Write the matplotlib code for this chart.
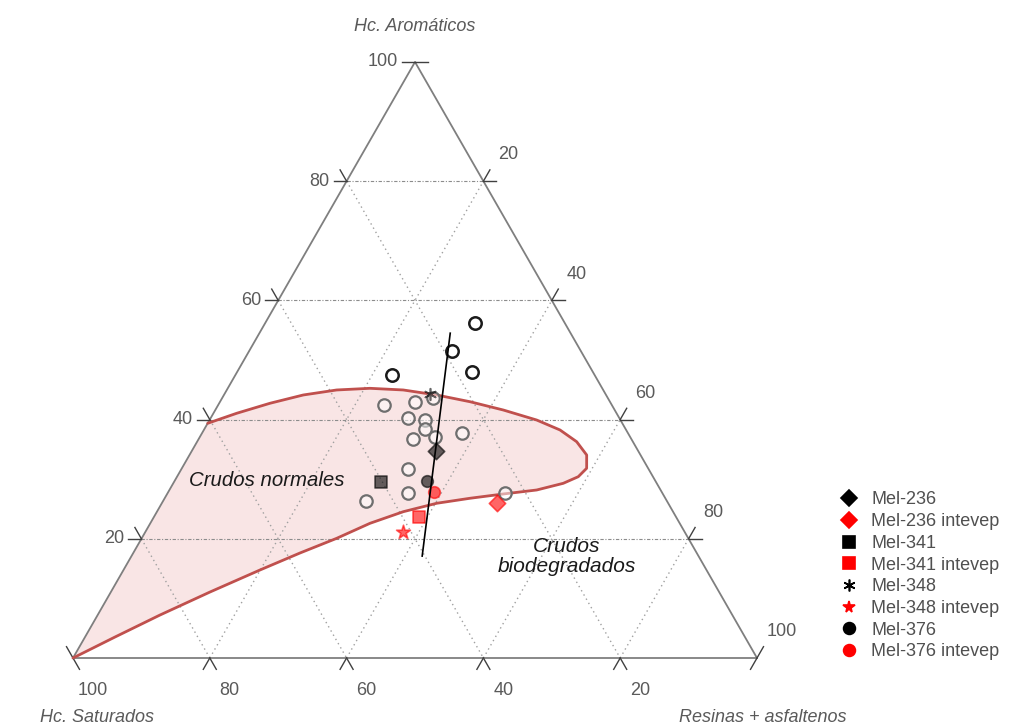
import matplotlib
matplotlib.use("Agg")
import matplotlib.pyplot as plt
from matplotlib.lines import Line2D
import numpy as np

plt.rcParams['font.family'] = ['Liberation Sans', 'DejaVu Sans']

# ---------------- data (ternary: Saturados, Aromaticos, Resinas+asfaltenos) -------------
tick_values = [20, 40, 60, 80, 100]
tick_labels = ["20", "40", "60", "80", "100"]

# open circles (other crudes, grey outline)
open_sat = [33.3, 28.5, 25.6, 30.9, 28.6, 29.3, 28.5, 32.0, 24.2, 35.2, 37.2, 44.0, 23.0]
open_aro = [42.4, 43.0, 43.6, 40.3, 39.9, 38.4, 37.1, 36.7, 37.8, 31.7, 27.7, 26.3, 27.7]
open_res = [24.3, 28.5, 30.8, 28.8, 31.5, 32.3, 34.4, 31.3, 38.0, 33.1, 35.1, 29.7, 49.3]
# open circles with dark outline (upper group)
dark_sat = [13.1, 18.8, 17.7, 29.6]
dark_aro = [56.2, 51.5, 48.0, 47.5]
dark_res = [30.7, 29.7, 34.3, 22.9]

# named samples
sample_names = ["Mel-236", "Mel-236 intevep", "Mel-341", "Mel-341 intevep",
                "Mel-348", "Mel-348 intevep", "Mel-376", "Mel-376 intevep"]
sample_sat = [29.6, 25.0, 40.2, 37.5, 25.7, 41.2, 33.4, 33.3]
sample_aro = [34.7, 26.0, 29.5, 23.7, 44.3, 21.1, 29.7, 27.9]
sample_res = [35.7, 49.0, 30.3, 38.8, 30.0, 37.7, 36.9, 38.9]
sample_markers = ["D", "D", "s", "s", (6, 2, 0), "*", "o", "o"]
sample_colors = ["black", "red", "black", "red", "black", "red", "black", "red"]

# separating line
line_sat = [17.6, 40.4]
line_aro = [54.5, 17.1]
line_res = [27.9, 42.5]

# "Crudos normales" field boundary
field_sat = [100.0, 92.1, 83.68, 74.44, 65.27, 58.0, 51.41, 45.28, 39.43, 33.85, 28.56,
             23.33, 18.11, 13.67, 10.92, 8.99, 7.87, 8.22, 9.67, 12.25, 16.29, 20.46,
             24.77, 29.23, 33.96, 38.97, 44.27, 49.83, 55.54, 60.62]
field_aro = [0.0, 3.52, 7.21, 11.07, 14.77, 17.62, 20.08, 22.60, 24.55, 25.96, 26.80,
             27.52, 28.19, 29.31, 30.42, 31.83, 34.06, 36.29, 38.26, 39.93, 41.61, 43.00,
             44.13, 44.97, 45.25, 44.97, 44.13, 42.74, 41.06, 39.38]
field_res = [0.0, 4.38, 9.11, 14.49, 19.96, 24.38, 28.51, 32.12, 36.02, 40.19, 44.64,
             49.15, 53.70, 57.02, 58.66, 59.18, 58.07, 55.49, 52.07, 47.82, 42.10, 36.54,
             31.10, 25.80, 20.79, 16.06, 11.60, 7.43, 3.40, 0.0]


def to_xy(sat, aro, res):
    sat = np.asarray(sat, float); aro = np.asarray(aro, float); res = np.asarray(res, float)
    tot = sat + aro + res
    return (res + aro / 2) / tot * 100, aro / tot * 100


fig = plt.figure(figsize=(10.10, 7.27), dpi=100)
ax = fig.add_axes([0, 0, 1, 1])
ax.set_xlim(-73 / 6.84, (1010 - 73) / 6.84)
ax.set_ylim((658 - 727) / 5.96, 658 / 5.96)
ax.axis('off')

edge_col = '#7f7f7f'
txt_col = '#5a5a5a'

# field fill
fx, fy = to_xy(field_sat, field_aro, field_res)
ax.fill(fx, fy, color='#f9e5e5', zorder=1, lw=0)

# grid lines
for v in [20, 40, 60, 80]:
    x, y = to_xy([100 - v, 0], [v, v], [0, 100 - v])
    ax.plot(x, y, color='#8c8c8c', lw=0.8, ls=(0, (3, 1.5, 1, 1.5)), zorder=2)
    x, y = to_xy([v, v], [100 - v, 0], [0, 100 - v])
    ax.plot(x, y, color='#a0a0a0', lw=1.0, ls=(0, (1, 2.5)), zorder=2)
    x, y = to_xy([100 - v, 0], [0, 100 - v], [v, v])
    ax.plot(x, y, color='#a0a0a0', lw=1.0, ls=(0, (1, 2.5)), zorder=2)

# triangle
tx, ty = to_xy([100, 0, 0, 100], [0, 0, 100, 0], [0, 100, 0, 0])
ax.plot(tx, ty, color=edge_col, lw=1.3, zorder=3)

# tick marks (extensions of the grid lines outside the triangle)
L = 1.9
t = 1.9
tk = dict(color='#404040', lw=1.0, zorder=3)
for v in [0] + tick_values:
    px, py = v / 2, v
    if v > 0:
        ax.plot([px, px - L], [py, py], **tk)
    if v < 100:
        ax.plot([px, px - 0.5 * t], [py, py + t], **tk)
    bx = 100 - v
    if 0 < v < 100:
        ax.plot([bx, bx - 0.5 * t], [0, -t], **tk)
        ax.plot([bx, bx + 0.5 * t], [0, -t], **tk)
    elif v == 100:
        ax.plot([bx, bx + 0.5 * t], [0, -t], **tk)
    else:
        ax.plot([bx, bx - 0.5 * t], [0, -t], **tk)
    rx, ry = 50 + v / 2, 100 - v
    if v < 100:
        ax.plot([rx, rx + L], [ry, ry], **tk)
    if v > 0:
        ax.plot([rx, rx + 0.5 * t], [ry, ry + t], **tk)

# tick labels
fs_tick = 13
for v, lab in zip(tick_values, tick_labels):
    ax.text(v / 2 - 2.5, v, lab, ha='right', va='center', fontsize=fs_tick, color=txt_col)
    ax.text(50 + v / 2 + 3.6, 100 - v + 4.4, lab, ha='center', va='center', fontsize=fs_tick, color=txt_col)
    ax.text(100 - v + 2.9, -5.4, lab, ha='center', va='center', fontsize=fs_tick, color=txt_col)

# axis titles
fs_title = 13
ax.text(50, 105.9, "Hc. Aromáticos", ha='center', va='center', fontsize=fs_title,
        style='italic', color=txt_col)
ax.text(3.5, -10.0, "Hc. Saturados", ha='center', va='center', fontsize=fs_title,
        style='italic', color=txt_col)
ax.text(100.9, -10.0, "Resinas + asfaltenos", ha='center', va='center', fontsize=fs_title,
        style='italic', color=txt_col)

# field border
ax.plot(fx, fy, color='#c0504d', lw=2.0, zorder=4, solid_capstyle='round', solid_joinstyle='round')

# open circles
ox, oy = to_xy(open_sat, open_aro, open_res)
ax.scatter(ox, oy, s=80, facecolors=(1, 1, 1, 0.5), edgecolors='#6e6e6e', linewidths=1.6, zorder=5)
dx_, dy_ = to_xy(dark_sat, dark_aro, dark_res)
ax.scatter(dx_, dy_, s=80, facecolors=(1, 1, 1, 0.6), edgecolors='#1a1a1a', linewidths=1.8, zorder=5)

# samples
handles = []
for name, s_, a_, r_, m, c in zip(sample_names, sample_sat, sample_aro, sample_res,
                                  sample_markers, sample_colors):
    x, y = to_xy([s_], [a_], [r_])
    size = 70 if m != "*" else 110
    ax.scatter(x, y, s=size, marker=m, color=c, alpha=0.6, linewidths=1.2, zorder=6)
    handles.append(Line2D([], [], ls='none', marker=m, color=c,
                          markersize=8.5, markeredgewidth=1.2, label=name))

# separating line
lx, ly = to_xy(line_sat, line_aro, line_res)
ax.plot(lx, ly, color='black', lw=1.2, zorder=7)

# region labels
ax.text(28.36, 29.7, "Crudos normales", ha='center', va='center', fontsize=14.7,
        style='italic', color='#1a1a1a', zorder=8)
ax.text(72.2, 17.0, "Crudos\nbiodegradados", ha='center', va='center', fontsize=15,
        style='italic', color='#1a1a1a', linespacing=1.05, zorder=8)

leg = ax.legend(handles=handles, loc='upper left', bbox_to_anchor=(826 / 1010, 1 - 477 / 727),
                bbox_transform=fig.transFigure, frameon=False, fontsize=13,
                handlelength=0.9, handletextpad=0.8, labelspacing=0.26, borderpad=0.3)
for tx_ in leg.get_texts():
    tx_.set_color('#505050')

fig.savefig("out.png", dpi=100)
